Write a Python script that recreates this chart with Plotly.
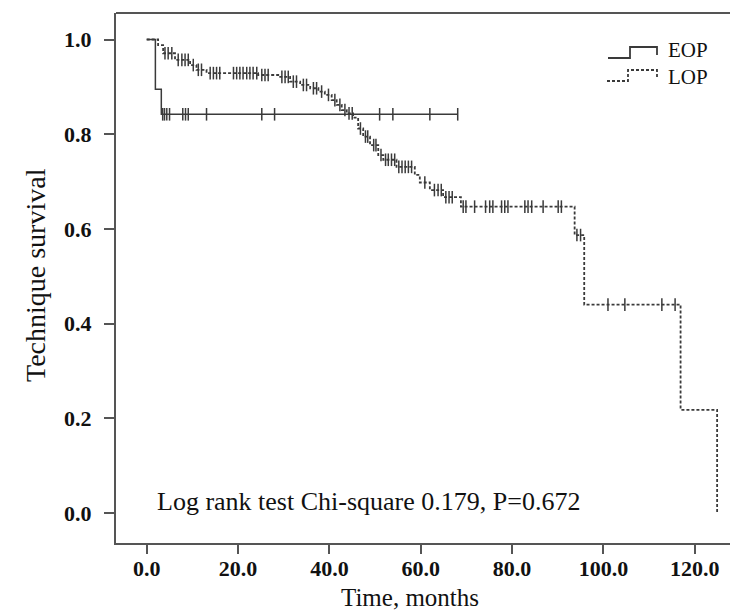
import plotly.graph_objects as go

# ---------------- data ----------------
# EOP: Kaplan-Meier step curve (time in months, survival)
eop_times = [0.0, 1.9, 3.2, 68.1]
eop_surv = [1.0, 0.895, 0.842, 0.842]
eop_cens_t = [3.5, 3.9, 4.4, 5.0, 7.9, 8.5, 9.1, 13.1, 25.2, 28.0, 51.0, 53.9, 62.0, 68.1]
eop_cens_s = [0.842] * len(eop_cens_t)

# LOP: Kaplan-Meier step curve
lop_times = [0.0, 2.5, 3.6, 6.2, 9.5, 10.9, 13.1, 24.4, 28.8, 31.4, 33.6, 35.8, 37.6,
             39.0, 40.5, 41.6, 42.7, 43.8, 45.2, 46.3, 47.4, 48.9, 50.7, 51.8, 54.7,
             58.7, 59.8, 62.0, 64.9, 68.8, 93.7, 95.8, 116.9, 124.9]
lop_surv = [1.0, 0.988, 0.971, 0.957, 0.946, 0.936, 0.929, 0.925, 0.921, 0.911, 0.904,
            0.897, 0.890, 0.883, 0.872, 0.862, 0.851, 0.844, 0.835, 0.812, 0.795, 0.777,
            0.756, 0.746, 0.731, 0.714, 0.698, 0.682, 0.667, 0.647, 0.587, 0.440, 0.218, 0.0]
lop_cens_t = [4.0, 4.7, 5.5, 6.9, 7.7, 8.4, 9.1, 10.2, 11.3, 12.0,
              13.9, 14.6, 15.3, 16.0, 19.0, 19.7, 20.4, 21.1, 21.9, 22.6, 23.3, 24.1,
              25.2, 25.9, 26.6, 29.6, 30.3, 31.0, 32.1, 32.8, 34.3, 35.0, 36.5, 37.2,
              38.3, 39.8, 41.2, 42.3, 43.4, 44.3, 45.0, 46.8, 47.9, 48.4, 49.7, 50.2,
              51.3, 52.3, 52.9, 53.6, 54.3, 55.2, 55.9, 56.6, 57.3, 58.0, 60.9,
              63.0, 63.8, 64.5, 65.5, 66.2, 66.9,
              69.3, 69.9, 71.8, 74.2, 75.1, 75.8, 77.7, 78.4, 79.1, 82.8, 83.5, 84.3,
              86.8, 90.1, 90.8, 94.2, 95.0, 101.0, 104.7, 112.8, 115.7]


def lop_level(t):
    s = lop_surv[0]
    for tt, ss in zip(lop_times, lop_surv):
        if tt <= t:
            s = ss
    return s


lop_cens_s = [lop_level(t) for t in lop_cens_t]

x_tick_vals = [0, 20, 40, 60, 80, 100, 120]
x_tick_text = ["0.0", "20.0", "40.0", "60.0", "80.0", "100.0", "120.0"]
y_tick_vals = [0.0, 0.2, 0.4, 0.6, 0.8, 1.0]
y_tick_text = ["0.0", "0.2", "0.4", "0.6", "0.8", "1.0"]

# ---------------- figure ----------------
OFF = 8  # default page body margin
W, H = 738 - OFF, 611 - OFF
L, R, T, B = 116 - OFF, 0, 13 - OFF, 611 - 543
PW, PH = W - L - R, H - T - B

def px(x):  # page pixel -> paper
    return (x - OFF - L) / PW

def py(y):
    return (H - B - (y - OFF)) / PH

LINE = "#3a3a3a"
SERIF = "Liberation Serif"

fig = go.Figure()
fig.add_trace(go.Scatter(x=eop_times, y=eop_surv, mode="lines", line_shape="hv",
                         line=dict(color=LINE, width=1.5), showlegend=False))
fig.add_trace(go.Scatter(x=eop_cens_t, y=eop_cens_s, mode="markers",
                         marker=dict(symbol="line-ns-open", size=9, color=LINE,
                                     line=dict(color=LINE, width=1.5)),
                         showlegend=False))
fig.add_trace(go.Scatter(x=lop_times, y=lop_surv, mode="lines", line_shape="hv",
                         line=dict(color=LINE, width=1.8, dash="3px,2px"), showlegend=False))
fig.add_trace(go.Scatter(x=lop_cens_t, y=lop_cens_s, mode="markers",
                         marker=dict(symbol="line-ns-open", size=9, color=LINE,
                                     line=dict(color=LINE, width=1.5)),
                         showlegend=False))

x0 = (116 - 146.7) / 4.567
x1 = (738 - 146.7) / 4.567
y0 = -(543 - 513) / 473.5
y1 = 1.0 + (39.5 - 13) / 473.5

fig.update_xaxes(range=[x0, x1], tickvals=x_tick_vals, ticktext=x_tick_text,
                 showgrid=False, zeroline=False, showline=True, linecolor="#555",
                 linewidth=2, ticks="outside", ticklen=9, tickwidth=2, tickcolor="#555",
                 ticklabelstandoff=-4,
                 tickfont=dict(family=SERIF, size=22, color="#111", weight="bold"))
fig.update_yaxes(range=[y0, y1], tickvals=y_tick_vals, ticktext=y_tick_text,
                 showgrid=False, zeroline=False, showline=True, linecolor="#555",
                 linewidth=2, ticks="outside", ticklen=10, tickwidth=2, tickcolor="#555",
                 ticklabelstandoff=8,
                 tickfont=dict(family=SERIF, size=22, color="#111", weight="bold"))

shapes = [
    # top frame line
    dict(type="line", xref="paper", yref="paper", x0=0, x1=1, y0=1, y1=1,
         line=dict(color="#555", width=2)),
    # legend symbols
    dict(type="path", xref="paper", yref="paper",
         path=f"M {px(608)},{py(58)} L {px(630)},{py(58)} L {px(630)},{py(47)} L {px(657)},{py(47)} L {px(657)},{py(55)}",
         line=dict(color=LINE, width=1.8)),
    dict(type="path", xref="paper", yref="paper",
         path=f"M {px(607)},{py(81)} L {px(628)},{py(81)} L {px(628)},{py(70)} L {px(657)},{py(70)} L {px(657)},{py(78)}",
         line=dict(color=LINE, width=1.8, dash="3px,2px")),
]

annotations = [
    dict(text="EOP", xref="paper", yref="paper", x=px(666), y=py(50), xanchor="left",
         yanchor="middle", showarrow=False, font=dict(family=SERIF, size=21, color="#111")),
    dict(text="LOP", xref="paper", yref="paper", x=px(666), y=py(77), xanchor="left",
         yanchor="middle", showarrow=False, font=dict(family=SERIF, size=21, color="#111")),
    dict(text="Log rank test Chi-square 0.179, P=0.672", xref="paper", yref="paper",
         x=px(155), y=py(501), xanchor="left", yanchor="middle", showarrow=False,
         font=dict(family=SERIF, size=26, color="#111")),
    dict(text="Time, months", xref="paper", yref="paper", x=px(410), y=py(597),
         xanchor="center", yanchor="middle", showarrow=False,
         font=dict(family=SERIF, size=25, color="#111")),
    dict(text="Technique survival", xref="paper", yref="paper", x=px(35), y=py(275),
         xanchor="center", yanchor="middle", showarrow=False, textangle=-90,
         font=dict(family=SERIF, size=28, color="#111")),
]

fig.update_layout(width=W, height=H, margin=dict(l=L, r=R, t=T, b=B, pad=0),
                  paper_bgcolor="white", plot_bgcolor="white",
                  shapes=shapes, annotations=annotations, showlegend=False)

fig.write_html("out.html")
